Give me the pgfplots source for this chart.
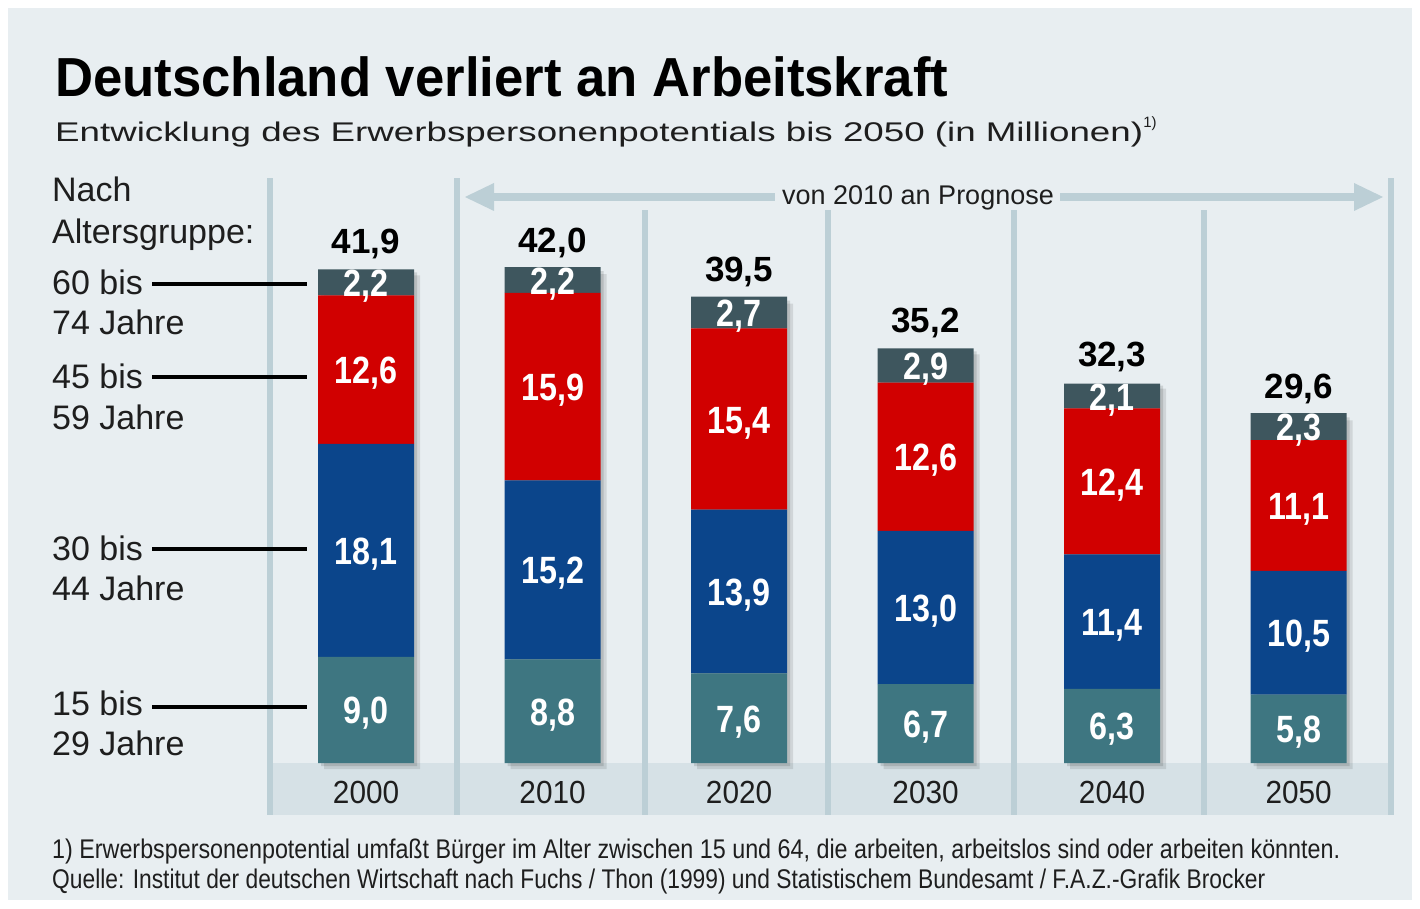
\documentclass[border=0pt]{standalone}
\usepackage{pgfplots}
\pgfplotsset{compat=1.18}
\usepackage{pgfplotstable}
\usepackage{fontspec}
\usepackage{graphicx}
\setmainfont{Liberation Sans}
\newfontfamily\segfam{Liberation Sans}[FakeStretch=0.85]
\newfontfamily\yearfam{Liberation Sans}[FakeStretch=0.93]
\newcommand\segfont{\segfam\bfseries\fontsize{38}{40}\selectfont}
\newcommand\totfont{\bfseries\fontsize{35}{37}\selectfont}
\newcommand\yearfont{\yearfam\fontsize{32}{34}\selectfont}
\newcommand\lblfont{\fontsize{34}{36}\selectfont}
\definecolor{bgcol}{HTML}{E8EEF1}
\definecolor{bandcol}{HTML}{D6E1E6}
\definecolor{sepcol}{HTML}{BCCFD6}
\definecolor{cteal}{HTML}{3E7681}
\definecolor{cblue}{HTML}{0B458B}
\definecolor{cred}{HTML}{D10000}
\definecolor{cdark}{HTML}{3E565E}
\definecolor{txt}{HTML}{1E1E1E}

\pgfplotstableread{
x v15 v30 v45 v60 tot
0 9.0 18.1 12.6 2.2 41.9
1 8.8 15.2 15.9 2.2 42.0
2 7.6 13.9 15.4 2.7 39.5
3 6.7 13.0 12.6 2.9 35.2
4 6.3 11.4 12.4 2.1 32.3
5 5.8 10.5 11.1 2.3 29.6
}\datatable

\pgfplotsset{
  base/.style={scale only axis, width=1120pt, height=585pt,
    xmin=-0.515, xmax=5.49, ymin=0, ymax=49.66, clip=false,
    bar width=96pt, anchor=south west},
}
\tikzset{
  segstyle/.style={font=\segfont, text=white, anchor=base, inner sep=0pt,
    yshift=-14pt},
}
\begin{document}
\begin{tikzpicture}
\useasboundingbox (0,0) rectangle (1420pt,908pt);
\fill[white] (0,0) rectangle (1420pt,908pt);
\fill[bgcol] (8pt,8pt) rectangle (1412pt,900pt);
\fill[bandcol] (270pt,93pt) rectangle (1390pt,145pt);
\foreach \sx/\top in {270/730, 457/730, 645/698, 828/698, 1014/698, 1204/698, 1391/730}{
  \fill[sepcol] ({\sx pt - 3pt},93pt) rectangle ({\sx pt + 3pt},{\top pt});
}
% arrow
\draw[line width=8pt, sepcol] (490pt,711pt) -- (775pt,711pt);
\draw[line width=8pt, sepcol] (1060pt,711pt) -- (1356pt,711pt);
\fill[sepcol] (465pt,711pt) -- (494pt,725pt) -- (494pt,697pt) -- cycle;
\fill[sepcol] (1383pt,711pt) -- (1354pt,725pt) -- (1354pt,697pt) -- cycle;
\node[anchor=base, inner sep=0pt, text=txt] at (918pt,703pt) {\fontsize{27}{30}\selectfont von 2010 an Prognose};

% title
\node[anchor=base west, inner sep=0pt] at (55pt,811pt) {\resizebox{893pt}{\height}{\bfseries\fontsize{55}{60}\selectfont Deutschland verliert an Arbeitskraft}};
\node[anchor=base west, inner sep=0pt, text=txt] at (55pt,766pt) {\resizebox{1088pt}{\height}{\fontsize{27}{30}\selectfont Entwicklung des Erwerbspersonenpotentials bis 2050 (in Millionen)}\raisebox{14pt}{\fontsize{15}{16}\selectfont 1)}};

% left labels
\begin{scope}[every node/.style={anchor=base west, inner sep=0pt, text=txt, font=\lblfont}]
\node at (52pt,706pt) {Nach};
\node at (52pt,664pt) {Altersgruppe:};
\node at (52pt,613pt) {60 bis};
\node at (52pt,573pt) {74 Jahre};
\node at (52pt,519pt) {45 bis};
\node at (52pt,478pt) {59 Jahre};
\node at (52pt,347pt) {30 bis};
\node at (52pt,308pt) {44 Jahre};
\node at (52pt,193pt) {15 bis};
\node at (52pt,153pt) {29 Jahre};
\end{scope}
\draw[line width=3.5pt] (152pt,624pt) -- (307pt,624pt);
\draw[line width=3.5pt] (152pt,531pt) -- (307pt,531pt);
\draw[line width=3.5pt] (152pt,359pt) -- (307pt,359pt);
\draw[line width=3.5pt] (152pt,201pt) -- (307pt,201pt);

% footnote
\node[anchor=base west, inner sep=0pt, text=txt] at (52pt,50pt) {\resizebox{1288pt}{\height}{\fontsize{27}{30}\selectfont 1) Erwerbspersonenpotential umfaßt Bürger im Alter zwischen 15 und 64, die arbeiten, arbeitslos sind oder arbeiten könnten.}};
\node[anchor=base west, inner sep=0pt, text=txt] at (52pt,20pt) {\resizebox{1213pt}{\height}{\fontsize{27}{30}\selectfont Quelle: Institut der deutschen Wirtschaft nach Fuchs / Thon (1999) und Statistischem Bundesamt / F.A.Z.-Grafik Brocker}};

% shadows
\begin{axis}[base, at={(276pt,139pt)}, hide axis, ybar, bar shift=0pt]
\addplot[fill=black, draw=none, opacity=0.10] table[x=x,y=tot]{\datatable};
\end{axis}
\begin{axis}[base, at={(273pt,142pt)}, hide axis, ybar, bar shift=0pt]
\addplot[fill=black, draw=none, opacity=0.12] table[x=x,y=tot]{\datatable};
\end{axis}

% bars
\begin{axis}[base, at={(270pt,145pt)}, ybar stacked,
  axis line style={draw=none}, major tick length=0pt,
  ytick=\empty, xtick={0,1,2,3,4,5},
  xticklabels={2000,2010,2020,2030,2040,2050},
  xticklabel style={font=\yearfont, text=txt, anchor=north, inner sep=0pt, yshift=-18pt},
  point meta=explicit,
  nodes near coords,
  /pgf/number format/.cd, fixed, fixed zerofill, precision=1, use comma, assume math mode=true]
\addplot[draw=none, fill=cteal, nodes near coords style={segstyle}] table[x=x, y=v15, meta=v15]{\datatable};
\addplot[draw=none, fill=cblue, nodes near coords style={segstyle}] table[x=x, y=v30, meta=v30]{\datatable};
\addplot[draw=none, fill=cred, nodes near coords style={segstyle}] table[x=x, y=v45, meta=v45]{\datatable};
\addplot[draw=none, fill=cdark, nodes near coords style={segstyle}] table[x=x, y=v60, meta=v60]{\datatable};
\end{axis}

% totals
\begin{axis}[base, at={(270pt,145pt)}, hide axis, ybar, bar shift=0pt,
  point meta=explicit, nodes near coords,
  nodes near coords style={font=\totfont, text=black, anchor=base, inner sep=0pt, yshift=16pt},
  /pgf/number format/.cd, fixed, fixed zerofill, precision=1, use comma, assume math mode=true]
\addplot[draw=none, fill=none] table[x=x, y=tot, meta=tot]{\datatable};
\end{axis}
\end{tikzpicture}
\end{document}
